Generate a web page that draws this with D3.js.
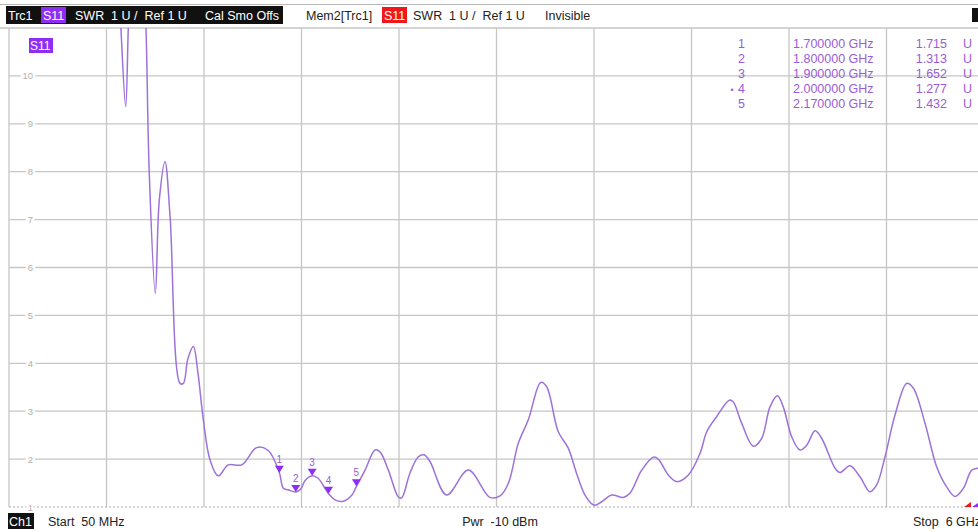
<!DOCTYPE html>
<html>
<head>
<meta charset="utf-8">
<script src="https://cdn.jsdelivr.net/npm/d3@7"></script>
<style>
  body { margin: 0; background: #fff; }
  svg { display: block; font-family: "Liberation Sans", Arial, sans-serif; }
</style>
</head>
<body>
<div id="chart"></div>
<script>
// trace, frequency in GHz, SWR in U
var freqGHz = [0.715, 0.733, 0.762, 0.778, 0.795, 0.868, 0.886, 0.906, 0.943, 0.967,
  1.002, 1.033, 1.094, 1.114, 1.142, 1.175, 1.203, 1.236, 1.277, 1.327,
  1.388, 1.470, 1.562, 1.632, 1.700, 1.724, 1.753, 1.800, 1.832, 1.856,
  1.900, 1.936, 2.000, 2.039, 2.090, 2.143, 2.170, 2.223, 2.284, 2.314,
  2.365, 2.426, 2.446, 2.497, 2.548, 2.583, 2.619, 2.721, 2.853, 2.985,
  3.046, 3.097, 3.158, 3.219, 3.295, 3.331, 3.402, 3.463, 3.514, 3.565,
  3.620, 3.667, 3.728, 3.799, 3.840, 3.911, 3.982, 4.012, 4.073, 4.125,
  4.196, 4.267, 4.308, 4.369, 4.446, 4.470, 4.521, 4.592, 4.643, 4.694,
  4.739, 4.775, 4.826, 4.877, 4.918, 4.969, 5.010, 5.091, 5.121, 5.182,
  5.243, 5.304, 5.345, 5.396, 5.457, 5.528, 5.569, 5.640, 5.711, 5.772,
  5.823, 5.874, 5.925, 5.963, 6.000];
var swr = [12.5, 11.0, 9.36, 11.0, 12.5, 12.5, 11.0, 7.97, 5.46, 7.4,
  8.21, 7.06, 3.58, 3.58, 4.1, 4.35, 3.8, 2.82, 1.98, 1.65,
  1.88, 1.88, 2.24, 2.18, 1.715, 1.39, 1.36, 1.313, 1.38, 1.55,
  1.652, 1.6, 1.277, 1.15, 1.12, 1.25, 1.432, 1.77, 2.19, 2.15,
  1.77, 1.21, 1.19, 1.71, 2.05, 2.09, 1.95, 1.25, 1.77, 1.2,
  1.23, 1.49, 2.33, 2.82, 3.60, 3.51, 2.57, 2.23, 1.70, 1.25,
  1.04, 1.11, 1.25, 1.2, 1.29, 1.77, 2.04, 2.0, 1.67, 1.53,
  1.67, 2.12, 2.57, 2.89, 3.23, 3.19, 2.75, 2.27, 2.43, 3.09,
  3.32, 3.09, 2.47, 2.19, 2.29, 2.59, 2.43, 1.81, 1.72, 1.86,
  1.63, 1.32, 1.46, 2.05, 2.92, 3.58, 3.48, 2.75, 1.84, 1.42,
  1.22, 1.39, 1.77, 1.81, 1.82];

var markerIds = ["1", "2", "3", "4", "5"];
var markerFreq = [1.7, 1.8, 1.9, 2.0, 2.17];
var markerSwr = [1.715, 1.313, 1.652, 1.277, 1.432];
var markerFreqText = ["1.700000 GHz", "1.800000 GHz", "1.900000 GHz", "2.000000 GHz", "2.170000 GHz"];
var markerSwrText = ["1.715", "1.313", "1.652", "1.277", "1.432"];

var yTicks = [1, 2, 3, 4, 5, 6, 7, 8, 9, 10];
var startGHz = 0.05, stopGHz = 6;

var width = 978, height = 532;
var plot = {left: 9, right: 984, top: 28, bottom: 507};

var traceColor = "#9d72d9";
var markColor = "#9a5cd6";
var violet = "#8f2cf5";
var gridColor = "#c6c6c6";

var x = d3.scaleLinear().domain([startGHz, stopGHz]).range([plot.left, plot.right]);
var y = d3.scaleLinear().domain([1, 11]).range([plot.bottom, plot.top]);

var svg = d3.select("#chart").append("svg")
    .attr("width", width)
    .attr("height", height);

svg.append("rect").attr("width", width).attr("height", height).attr("fill", "#fff");

// top frame line
svg.append("line")
    .attr("x1", 0).attr("x2", width).attr("y1", 4.5).attr("y2", 4.5)
    .attr("stroke", "#b8b8b8");

// ---- header ----
var head = svg.append("g").attr("font-size", 12.5);
head.append("rect").attr("x", 6).attr("y", 6).attr("width", 277).attr("height", 18).attr("fill", "#111");
head.append("rect").attr("x", 41).attr("y", 7).attr("width", 25).attr("height", 16).attr("fill", violet);
head.append("text").attr("x", 8).attr("y", 20).attr("fill", "#fff").text("Trc1");
head.append("text").attr("x", 43).attr("y", 20).attr("fill", "#fff").text("S11");
head.append("text").attr("x", 75).attr("y", 20).attr("fill", "#fff").attr("xml:space", "preserve").text("SWR  1 U /  Ref 1 U");
head.append("text").attr("x", 205).attr("y", 20).attr("fill", "#fff").text("Cal Smo Offs");
head.append("text").attr("x", 306).attr("y", 20).attr("fill", "#222").text("Mem2[Trc1]");
head.append("rect").attr("x", 382).attr("y", 7).attr("width", 25).attr("height", 16).attr("fill", "#f01818");
head.append("text").attr("x", 384).attr("y", 20).attr("fill", "#fff").text("S11");
head.append("text").attr("x", 413).attr("y", 20).attr("fill", "#222").attr("xml:space", "preserve").text("SWR  1 U /  Ref 1 U");
head.append("text").attr("x", 545).attr("y", 20).attr("fill", "#222").text("Invisible");
head.append("rect").attr("x", 972).attr("y", 8).attr("width", 6).attr("height", 14).attr("fill", "#111");

// ---- grid ----
var grid = svg.append("g");
grid.append("line")
    .attr("x1", 0).attr("x2", width).attr("y1", plot.top).attr("y2", plot.top)
    .attr("stroke", gridColor).attr("stroke-width", 1.3);

var vTicks = d3.range(11).map(function(i) { return startGHz + i * (stopGHz - startGHz) / 10; });
grid.selectAll("line.v")
    .data(vTicks)
  .enter().append("line")
    .attr("class", "v")
    .attr("x1", function(d) { return x(d); })
    .attr("x2", function(d) { return x(d); })
    .attr("y1", plot.top)
    .attr("y2", plot.bottom)
    .attr("stroke", gridColor)
    .attr("stroke-width", 1.3);

grid.selectAll("line.h")
    .data(yTicks.filter(function(d) { return d > 1; }))
  .enter().append("line")
    .attr("class", "h")
    .attr("x1", plot.left).attr("x2", width)
    .attr("y1", function(d) { return y(d); })
    .attr("y2", function(d) { return y(d); })
    .attr("stroke", gridColor)
    .attr("stroke-width", 1.3);

grid.append("line")
    .attr("x1", plot.left).attr("x2", width)
    .attr("y1", y(1)).attr("y2", y(1))
    .attr("stroke", "#a8a8a8")
    .attr("stroke-dasharray", "2,2");

// y labels, knocking out the grid line behind them
grid.selectAll("text.yl")
    .data(yTicks)
  .enter().append("text")
    .attr("class", "yl")
    .attr("x", 33)
    .attr("y", function(d) { return y(d) + 3.5; })
    .attr("text-anchor", "end")
    .attr("font-size", 9.5)
    .attr("fill", "#b0b0b0")
    .attr("stroke", "#fff")
    .attr("stroke-width", 5)
    .attr("paint-order", "stroke")
    .text(function(d) { return d; });

// ---- trace ----
svg.append("clipPath").attr("id", "clip")
  .append("rect")
    .attr("x", plot.left).attr("y", plot.top)
    .attr("width", plot.right - plot.left).attr("height", plot.bottom - plot.top);

var line = d3.line()
    .x(function(d, i) { return x(freqGHz[i]); })
    .y(function(d) { return y(d); })
    .curve(d3.curveCatmullRom.alpha(0.5));

svg.append("path")
    .datum(swr)
    .attr("clip-path", "url(#clip)")
    .attr("d", line)
    .attr("fill", "none")
    .attr("stroke", traceColor)
    .attr("stroke-width", 1.5);

// S11 trace label
svg.append("rect").attr("x", 29).attr("y", 38).attr("width", 24).attr("height", 15).attr("fill", violet);
svg.append("text").attr("x", 30).attr("y", 50).attr("font-size", 12).attr("fill", "#fff").text("S11");

// ---- markers on the trace ----
var marks = svg.append("g");
marks.selectAll("path")
    .data(markerIds)
  .enter().append("path")
    .attr("d", function(d, i) {
      var mx = x(markerFreq[i]), my = y(markerSwr[i]);
      return "M" + (mx - 4.5) + "," + (my - 7) + "L" + (mx + 4.5) + "," + (my - 7) + "L" + mx + "," + my + "Z";
    })
    .attr("fill", violet);
marks.selectAll("text")
    .data(markerIds)
  .enter().append("text")
    .attr("x", function(d, i) { return x(markerFreq[i]); })
    .attr("y", function(d, i) { return y(markerSwr[i]) - 10; })
    .attr("text-anchor", "middle")
    .attr("font-size", 10)
    .attr("fill", markColor)
    .text(function(d) { return d; });

// ---- marker table ----
var table = svg.append("g").attr("font-size", 12.5).attr("fill", markColor);
markerIds.forEach(function(id, i) {
  var by = 47.5 + i * 15;
  table.append("text").attr("x", 745).attr("y", by).attr("text-anchor", "end").text(id);
  table.append("text").attr("x", 793).attr("y", by).text(markerFreqText[i]);
  table.append("text").attr("x", 947).attr("y", by).attr("text-anchor", "end").text(markerSwrText[i]);
  table.append("text").attr("x", 963).attr("y", by).text("U");
});
table.append("text").attr("x", 732).attr("y", 92.5).attr("text-anchor", "middle").attr("font-size", 9).text("•");

// reference arrows at the right edge
svg.append("path")
    .attr("d", "M" + (x(stopGHz) - 20) + "," + y(1) + "L" + (x(stopGHz) - 13) + "," + (y(1) - 5) + "L" + (x(stopGHz) - 13) + "," + y(1) + "Z")
    .attr("fill", "#e41b1b");
svg.append("path")
    .attr("d", "M" + (x(stopGHz) - 12) + "," + y(1) + "L" + (x(stopGHz) - 6) + "," + (y(1) - 4) + "L" + (x(stopGHz) - 6) + "," + y(1) + "Z")
    .attr("fill", violet);

// ---- footer ----
var foot = svg.append("g").attr("font-size", 12.5).attr("fill", "#222");
foot.append("rect").attr("x", 8).attr("y", 513).attr("width", 26).attr("height", 16).attr("fill", "#111");
foot.append("text").attr("x", 9).attr("y", 526).attr("fill", "#fff").text("Ch1");
foot.append("text").attr("x", 48).attr("y", 526).attr("xml:space", "preserve").text("Start  50 MHz");
foot.append("text").attr("x", 500).attr("y", 526).attr("text-anchor", "middle").attr("xml:space", "preserve").text("Pwr  -10 dBm");
foot.append("text").attr("x", 913).attr("y", 526).attr("xml:space", "preserve").text("Stop  6 GHz");
</script>
</body>
</html>
